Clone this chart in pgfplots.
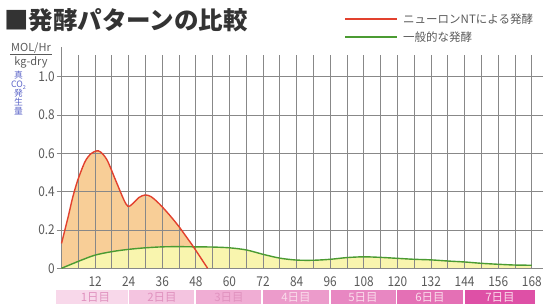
\documentclass[border=0pt]{standalone}
\usepackage{fontspec}
\setmainfont{Noto Sans CJK JP}
\newfontfamily\tickfont{Noto Sans CJK JP}[FakeStretch=0.88]
\usepackage{pgfplots}
\pgfplotsset{compat=1.18}
\definecolor{gridc}{HTML}{888888}
\definecolor{tickc}{HTML}{5A5A5A}
\definecolor{titlec}{HTML}{333333}
\definecolor{redc}{HTML}{E2412E}
\definecolor{greenc}{HTML}{4B9B32}
\definecolor{orangef}{HTML}{F8CE97}
\definecolor{yellowf}{HTML}{F9F5AE}
\definecolor{bluec}{HTML}{5B64C8}
\definecolor{bA}{HTML}{F8D8EA}
\definecolor{bB}{HTML}{F4C4E0}
\definecolor{bC}{HTML}{F0ADD4}
\definecolor{bD}{HTML}{EC9BCB}
\definecolor{bE}{HTML}{E887C2}
\definecolor{bF}{HTML}{E470B5}
\definecolor{bG}{HTML}{DE50A6}
\definecolor{tdark}{HTML}{E092BF}
\definecolor{tlight}{HTML}{FADCEB}

\pgfplotstableread{
x y
0 0.13
1.2 0.20
2.4 0.27
4 0.37
5.8 0.46
8.4 0.557
10.5 0.598
12.5 0.613
14 0.607
16.3 0.565
19.3 0.461
22.3 0.357
23.8 0.323
25.3 0.336
27.7 0.370
29.9 0.383
32 0.374
35 0.336
38.6 0.278
42 0.217
45.2 0.152
47 0.115
52.2 0
}\neuron

\pgfplotstableread{
x y
0 0
5.8 0.035
11.8 0.068
18 0.087
24 0.099
30 0.107
36 0.112
42 0.113
48 0.112
54 0.111
60 0.107
66 0.096
72 0.073
78 0.053
84 0.043
90 0.042
96 0.047
102 0.056
108 0.060
114 0.057
120 0.052
126 0.047
132 0.044
138 0.038
144 0.033
150 0.026
156 0.021
162 0.017
168 0.016
}\general

\begin{document}
\begin{tikzpicture}
\begin{axis}[
  at={(61.5bp,35.7bp)}, anchor=south west,
  scale only axis, width=481.5bp, height=213.3bp,
  xmin=0, xmax=172, ymin=0, ymax=1.114,
  set layers,
  axis x line=bottom, axis y line=left,
  axis line style={-, draw=gridc, line width=0.8bp},
  y axis line style={shorten >=-8bp},
  xtick={12,24,...,168},
  minor xtick={6,18,...,162},
  ytick={0,0.2,0.4,0.6,0.8,1},
  yticklabels={0,0.2,0.4,0.6,0.8,1.0},
  xmajorgrids, xminorgrids, ymajorgrids,
  grid style={draw=gridc, line width=0.8bp},
  minor grid style={draw=gridc, line width=0.8bp},
  x tick style={draw=none},
  y tick style={draw=gridc, line width=0.8bp},
  tick align=outside,
  major tick length=5bp, minor tick length=0pt,
  /pgf/number format/assume math mode=true,
  ticklabel style={font=\tickfont\fontsize{13.5bp}{13.5bp}\selectfont, text=tickc},
  yticklabel style={inner sep=1.5bp},
  clip=false,
]
\addplot[smooth, draw=none, fill=orangef, on layer=axis background, forget plot] table {\neuron} \closedcycle;
\addplot[smooth, draw=none, fill=yellowf, on layer=axis background, forget plot] table {\general} \closedcycle;
\addplot[smooth, draw=greenc, line width=1.4bp] table {\general};
\addplot[smooth, draw=redc, line width=1.4bp] table {\neuron};
\end{axis}
% day band
\fill[bA] (55.9bp,0bp) rectangle (127.6bp,14bp);
\fill[bB] (129.2bp,0bp) rectangle (194.2bp,14bp);
\fill[bC] (195.9bp,0bp) rectangle (261.4bp,14bp);
\fill[bD] (263bp,0bp) rectangle (328.8bp,14bp);
\fill[bE] (330.5bp,0bp) rectangle (395.7bp,14bp);
\fill[bF] (397.4bp,0bp) rectangle (463.2bp,14bp);
\fill[bG] (464.8bp,0bp) rectangle (535.4bp,14bp);
\begin{scope}[every node/.style={font=\fontsize{11.5bp}{11.5bp}\selectfont, inner sep=0pt}]
\node[text=tdark] at (95.5bp,7bp) {1日目};
\node[text=tdark] at (162bp,7bp) {2日目};
\node[text=tdark] at (229bp,7bp) {3日目};
\node[text=tlight] at (296bp,7bp) {4日目};
\node[text=tlight] at (363bp,7bp) {5日目};
\node[text=tlight] at (430bp,7bp) {6日目};
\node[text=tlight] at (500bp,7bp) {7日目};
\end{scope}
% title
\node[anchor=west, inner sep=0pt, text=titlec, font=\bfseries\fontsize{24.5bp}{24.5bp}\selectfont] at (4bp,284bp) {■発酵パターンの比較};
% legend
\draw[redc, line width=1.5bp] (345bp,285bp) -- (397bp,285bp);
\draw[greenc, line width=1.5bp] (345bp,267bp) -- (397bp,267bp);
\node[anchor=west, inner sep=0pt, text=tickc, font=\fontsize{11.5bp}{11.5bp}\selectfont] at (403bp,285bp) {ニューロンNTによる発酵};
\node[anchor=west, inner sep=0pt, text=tickc, font=\fontsize{11.5bp}{11.5bp}\selectfont] at (403bp,267bp) {一般的な発酵};
% y label
\node[inner sep=0pt, text=tickc, font=\fontsize{11bp}{11bp}\selectfont] at (31bp,256bp) {MOL/Hr};
\draw[tickc, line width=0.6bp] (10bp,249.5bp) -- (52bp,249.5bp);
\node[inner sep=0pt, text=tickc, font=\fontsize{11bp}{11bp}\selectfont] at (31bp,242bp) {kg-dry};
\node[anchor=north, inner sep=0pt, text=bluec, align=center, font=\fontsize{8.8bp}{9bp}\selectfont] at (18.5bp,233bp) {真\\CO\raisebox{-0.3ex}{\fontsize{5.5bp}{5.5bp}\selectfont 2}\\発\\生\\量};
\pgfresetboundingbox
\path[use as bounding box] (0bp,0bp) rectangle (547bp,304bp);
\end{tikzpicture}
\end{document}
